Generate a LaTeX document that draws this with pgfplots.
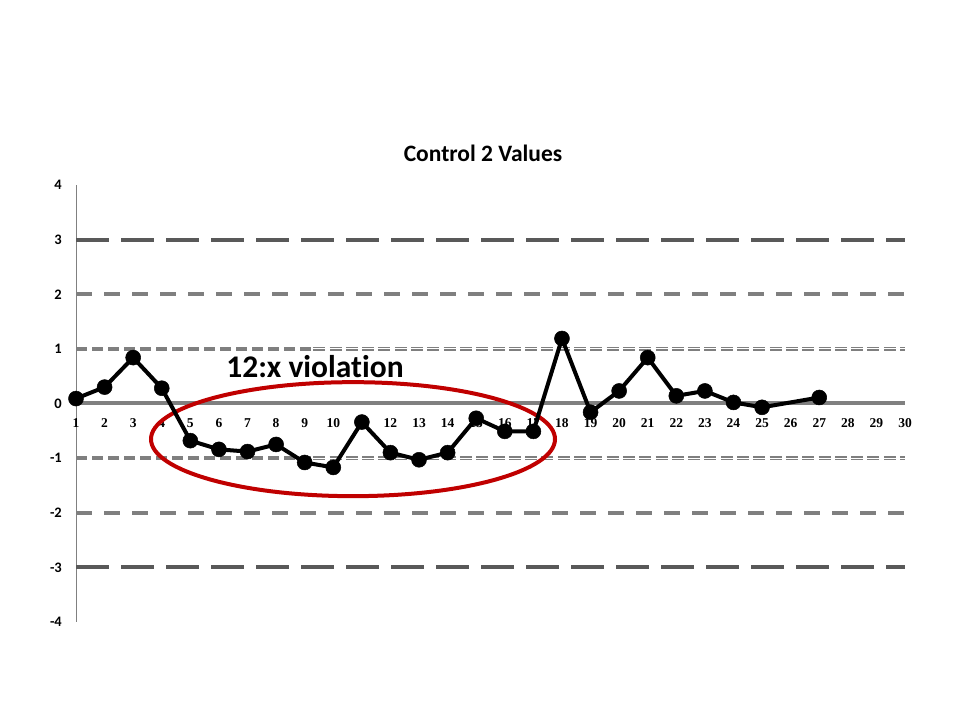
\documentclass[border=0pt]{standalone}
\usepackage{pgfplots}
\pgfplotsset{compat=1.18}
\usepackage{fontspec}
\setmainfont{Carlito}[Ligatures=NoCommon]
\newfontfamily\tickserif{Liberation Serif}
\definecolor{lim3}{HTML}{595959}
\definecolor{lim2}{HTML}{7F7F7F}
\definecolor{zline}{HTML}{808080}
\definecolor{ovalred}{HTML}{C00000}

\begin{document}
\begin{tikzpicture}
\path[use as bounding box] (0,0) rectangle (960bp,720bp);
\begin{axis}[
    at = {(76bp,98bp)}, anchor = south west,
    scale only axis,
    width = 829bp, height = 437bp,
    xmin = 1, xmax = 30,
    ymin = -4, ymax = 4,
    axis x line = middle, axis y line = left,
    x axis line style = {draw=none},
    y axis line style = {draw=zline, line width=1bp, -},
    xtick = {1,...,30}, ytick = {-4,...,4},
    major tick length = 0pt,
    hide obscured x ticks = false, hide obscured y ticks = false,
    /pgf/number format/assume math mode = true,
    xticklabel style = {font=\tickserif\bfseries\fontsize{13.5bp}{15bp}\selectfont,
        anchor=base, inner sep=0pt, yshift=-23.7bp},
    yticklabel style = {font=\bfseries\fontsize{14.5bp}{16bp}\selectfont,
        anchor=east, inner sep=0pt, xshift=-14bp},
    clip = false,
]

% control limits
\addplot[lim3, line width=4bp, dash pattern=on 33bp off 12bp]
    coordinates {(1,3) (30,3)};
\addplot[lim3, line width=4bp, dash pattern=on 33bp off 12bp]
    coordinates {(1,-3) (30,-3)};
\addplot[lim2, line width=4bp, dash pattern=on 16bp off 12bp]
    coordinates {(1,2) (30,2)};
\addplot[lim2, line width=4bp, dash pattern=on 16bp off 12bp]
    coordinates {(1,-2) (30,-2)};
\addplot[lim2, line width=4bp, dash pattern=on 11bp off 5bp]
    coordinates {(1,1) (9.3,1)};
\addplot[lim2, line width=4bp, dash pattern=on 11bp off 5bp]
    coordinates {(1,-1) (9.3,-1)};
\addplot[lim2, line width=1.4bp, double=white, double distance=1.2bp, dash pattern=on 12bp off 4.3bp]
    coordinates {(9.3,1) (30,1)};
\addplot[lim2, line width=1.4bp, double=white, double distance=1.2bp, dash pattern=on 12bp off 4.3bp]
    coordinates {(9.3,-1) (30,-1)};

% zero line
\addplot[zline, line width=4bp]
    coordinates {(1,0) (30,0)};

% 12:x run marker
\draw[ovalred, line width=4bp] (axis cs:10.69,-0.653) ellipse [x radius=202bp, y radius=57bp];

% control 2 values
\addplot[black, line width=4bp, line join=round, mark=*, mark size=7.5bp,
    mark options={solid, line width=0.5bp}]
    coordinates {
        (1,0.09) (2,0.30) (3,0.84) (4,0.28) (5,-0.68) (6,-0.84) (7,-0.88)
        (8,-0.75) (9,-1.08) (10,-1.17) (11,-0.34) (12,-0.90) (13,-1.03)
        (14,-0.90) (15,-0.27) (16,-0.51) (17,-0.51) (18,1.19) (19,-0.16)
        (20,0.23) (21,0.84) (22,0.14) (23,0.23) (24,0.02) (25,-0.07) (27,0.11)
    };

\end{axis}
\node[anchor=base] at (483bp,558bp) {\bfseries\fontsize{23.5bp}{26bp}\selectfont Control 2 Values};
\node[anchor=base] at (315bp,342bp) {\bfseries\fontsize{31.5bp}{34bp}\selectfont 12:x violation};
\end{tikzpicture}
\end{document}
